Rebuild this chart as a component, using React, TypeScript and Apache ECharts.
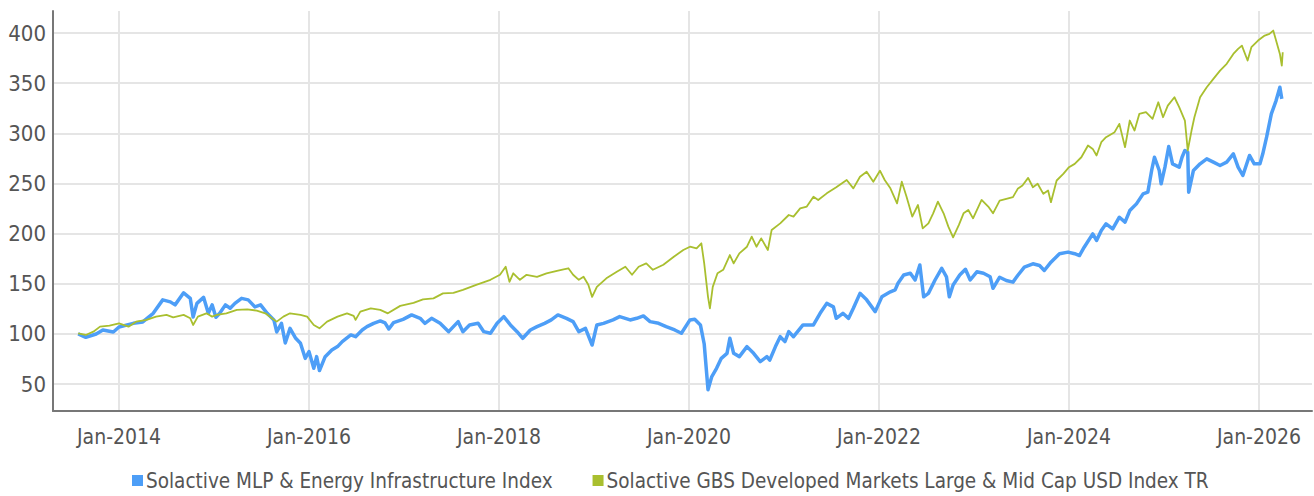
import React, { useEffect, useRef } from "react";
import * as echarts from "echarts";

const seriesNames = [
  "Solactive MLP & Energy Infrastructure Index",
  "Solactive GBS Developed Markets Large & Mid Cap USD Index TR",
];

const yTickValues = [50, 100, 150, 200, 250, 300, 350, 400];
const xTickYears = [2014, 2016, 2018, 2020, 2022, 2024, 2026];

// [decimal year, index value]
const mlpData: [number, number][] = [
  [2013.57, 100], [2013.65, 96.7], [2013.76, 100], [2013.83, 104], [2013.94, 102],
  [2014.0, 107], [2014.15, 110.6], [2014.25, 112], [2014.36, 120.6], [2014.46, 134],
  [2014.54, 132], [2014.59, 129], [2014.68, 141], [2014.75, 135.5], [2014.78, 117],
  [2014.82, 130.5], [2014.89, 136.5], [2014.94, 120.6], [2014.98, 129], [2015.02, 116.6],
  [2015.06, 120.6], [2015.12, 129], [2015.17, 125.6], [2015.22, 130.5], [2015.29, 135.5],
  [2015.36, 134], [2015.43, 127], [2015.49, 129], [2015.56, 120.6], [2015.63, 114],
  [2015.66, 102], [2015.71, 110.6], [2015.75, 91], [2015.8, 105.6], [2015.86, 95.7],
  [2015.91, 90.7], [2015.96, 75.7], [2016.0, 82.4], [2016.05, 65.8], [2016.08, 77.4],
  [2016.11, 63.5], [2016.17, 77.4], [2016.24, 84], [2016.3, 87.4], [2016.35, 92.4],
  [2016.44, 99], [2016.49, 97.3], [2016.56, 104], [2016.61, 107.3], [2016.68, 110.6],
  [2016.75, 113], [2016.8, 111], [2016.84, 105], [2016.89, 111.3], [2016.99, 114.6],
  [2017.08, 119], [2017.17, 115.6], [2017.22, 110.6], [2017.29, 115.6], [2017.38, 110.6],
  [2017.47, 102.3], [2017.57, 112.3], [2017.62, 102.3], [2017.69, 109], [2017.78, 110.6],
  [2017.84, 102.3], [2017.91, 100.7], [2017.98, 110.6], [2018.05, 117.3], [2018.12, 109],
  [2018.19, 102.3], [2018.25, 95.7], [2018.33, 104], [2018.4, 107.3], [2018.48, 110.6],
  [2018.55, 114], [2018.62, 119], [2018.71, 115.6], [2018.78, 112.3], [2018.84, 102.3],
  [2018.91, 105.6], [2018.98, 89], [2019.03, 109], [2019.1, 110.6], [2019.2, 114],
  [2019.27, 117.3], [2019.38, 114], [2019.45, 115.6], [2019.52, 118], [2019.59, 112.3],
  [2019.68, 110.6], [2019.76, 107.3], [2019.85, 104], [2019.92, 100.7], [2020.01, 114],
  [2020.06, 114.6], [2020.12, 109], [2020.16, 90], [2020.2, 44.5], [2020.24, 57.5],
  [2020.29, 65.8], [2020.34, 75.7], [2020.4, 80.7], [2020.43, 95.7], [2020.47, 80.7],
  [2020.53, 77.4], [2020.61, 87.4], [2020.68, 80.7], [2020.75, 72.4], [2020.82, 77.4],
  [2020.85, 74], [2020.91, 87.4], [2020.96, 97.3], [2021.01, 92.4], [2021.05, 102.3],
  [2021.1, 97.3], [2021.2, 109], [2021.31, 109], [2021.38, 120.6], [2021.45, 130.5],
  [2021.52, 127], [2021.55, 115.6], [2021.62, 120.6], [2021.68, 115.6], [2021.73, 125.6],
  [2021.8, 140.5], [2021.87, 134], [2021.96, 122.3], [2022.03, 137], [2022.12, 142],
  [2022.17, 144], [2022.2, 150.5], [2022.26, 158.8], [2022.33, 160.5], [2022.38, 153.8],
  [2022.43, 168.8], [2022.47, 137], [2022.52, 140.5], [2022.59, 153.8], [2022.66, 165.5],
  [2022.71, 157], [2022.74, 137], [2022.78, 148.8], [2022.85, 158.8], [2022.91, 164.5],
  [2022.96, 153.8], [2023.03, 162], [2023.1, 160.5], [2023.17, 157], [2023.2, 145.5],
  [2023.27, 156.6], [2023.34, 153.3], [2023.41, 151.7], [2023.46, 158.3], [2023.53, 166.6],
  [2023.62, 170], [2023.69, 168.3], [2023.74, 163.3], [2023.81, 171.6], [2023.9, 180],
  [2023.99, 181.6], [2024.06, 180], [2024.11, 178.2], [2024.16, 186.5], [2024.25, 199.8],
  [2024.29, 193.2], [2024.34, 203.2], [2024.39, 209.8], [2024.46, 204.8], [2024.53, 216.4],
  [2024.59, 211.5], [2024.64, 223], [2024.71, 229.7], [2024.78, 239.7], [2024.83, 241.4],
  [2024.87, 263], [2024.9, 276.2], [2024.95, 263], [2024.97, 249.7], [2025.01, 266.3],
  [2025.05, 286.9], [2025.09, 269.6], [2025.16, 266.3], [2025.19, 276.2], [2025.22, 282.9],
  [2025.25, 281.2], [2025.26, 241.4], [2025.31, 263], [2025.38, 269.6], [2025.45, 274.6],
  [2025.52, 271.3], [2025.59, 268], [2025.66, 271.3], [2025.73, 279.6], [2025.78, 266.3],
  [2025.83, 258], [2025.9, 278], [2025.95, 269.6], [2026.01, 269.6], [2026.04, 279.6],
  [2026.08, 296.2], [2026.13, 319.4], [2026.18, 332.7], [2026.22, 346], [2026.24, 334.4],
];

const gbsData: [number, number][] = [
  [2013.57, 100.7], [2013.65, 99], [2013.73, 102.3], [2013.8, 107.3], [2013.9, 108.3],
  [2014.0, 110.6], [2014.1, 107.3], [2014.18, 112.3], [2014.29, 114], [2014.39, 117.3],
  [2014.5, 119], [2014.57, 116.6], [2014.68, 119], [2014.75, 115.6], [2014.78, 109],
  [2014.83, 117.3], [2014.92, 120.6], [2014.98, 117.3], [2015.03, 119], [2015.13, 120.6],
  [2015.24, 124], [2015.35, 124.6], [2015.45, 123.3], [2015.54, 120.6], [2015.61, 115.6],
  [2015.66, 112.3], [2015.73, 117.3], [2015.8, 120.6], [2015.91, 119], [2015.98, 117.3],
  [2016.05, 109], [2016.11, 105.6], [2016.19, 112.3], [2016.3, 117.3], [2016.4, 120.6],
  [2016.47, 118], [2016.49, 114], [2016.54, 122.3], [2016.65, 125.6], [2016.75, 124],
  [2016.83, 120.6], [2016.96, 128], [2017.1, 131], [2017.2, 134.5], [2017.31, 135.5],
  [2017.41, 140.5], [2017.52, 141], [2017.62, 144], [2017.76, 149], [2017.91, 154],
  [2018.01, 159], [2018.07, 167], [2018.11, 152], [2018.15, 160.5], [2018.22, 154],
  [2018.29, 159], [2018.4, 157], [2018.5, 160.5], [2018.61, 163], [2018.68, 164.5],
  [2018.73, 165.5], [2018.78, 159], [2018.84, 154], [2018.89, 157], [2018.94, 149],
  [2018.98, 137], [2019.03, 147], [2019.13, 155.5], [2019.24, 162], [2019.33, 167],
  [2019.4, 159], [2019.47, 167], [2019.55, 170.4], [2019.62, 164], [2019.73, 169],
  [2019.84, 177], [2019.94, 183.7], [2020.01, 187], [2020.08, 185.4], [2020.13, 190.4],
  [2020.16, 170.4], [2020.2, 137], [2020.22, 125.6], [2020.25, 147], [2020.3, 160.5],
  [2020.36, 164], [2020.43, 178.7], [2020.47, 170.4], [2020.53, 180.4], [2020.61, 187],
  [2020.66, 197], [2020.71, 187], [2020.76, 195.3], [2020.83, 183.7], [2020.87, 203.7],
  [2020.96, 210.3], [2021.05, 218.6], [2021.1, 217], [2021.17, 225.2], [2021.24, 227],
  [2021.31, 236.9], [2021.36, 233.6], [2021.45, 240.2], [2021.55, 246.2], [2021.66, 253.5],
  [2021.73, 245.2], [2021.8, 256.8], [2021.87, 261.8], [2021.94, 251.8], [2022.01, 262.8],
  [2022.06, 253.5], [2022.12, 245.2], [2022.19, 230.2], [2022.24, 251.8], [2022.29, 236.9],
  [2022.35, 217], [2022.41, 228.6], [2022.46, 205.3], [2022.52, 210.3], [2022.57, 220.3],
  [2022.62, 231.9], [2022.68, 220.3], [2022.73, 207], [2022.78, 196.3], [2022.84, 208.6],
  [2022.89, 220.3], [2022.94, 223.6], [2022.99, 215.3], [2023.08, 233.6], [2023.15, 227],
  [2023.2, 220.3], [2023.27, 233], [2023.34, 234.7], [2023.41, 236.4], [2023.46, 244.7],
  [2023.51, 248], [2023.57, 255.6], [2023.62, 246.3], [2023.67, 249.7], [2023.73, 239.7],
  [2023.78, 243], [2023.81, 231.4], [2023.87, 253], [2023.94, 259.6], [2024.0, 266.3],
  [2024.06, 269.6], [2024.13, 276.2], [2024.2, 287.9], [2024.25, 284.5], [2024.29, 277.9],
  [2024.34, 291.2], [2024.39, 296.2], [2024.48, 301.2], [2024.53, 309.5], [2024.59, 286.2],
  [2024.64, 312.8], [2024.69, 302.8], [2024.74, 319.4], [2024.81, 321.1], [2024.88, 314.5],
  [2024.94, 331], [2024.99, 316.1], [2025.04, 327.7], [2025.11, 336], [2025.16, 326.1],
  [2025.22, 312.8], [2025.25, 282.9], [2025.29, 302.8], [2025.32, 316.1], [2025.38, 336],
  [2025.45, 346], [2025.52, 354.3], [2025.59, 362.6], [2025.66, 369.3], [2025.73, 379.2],
  [2025.78, 384.2], [2025.82, 387.5], [2025.88, 372.6], [2025.92, 385.9], [2025.99, 392.5],
  [2026.06, 397.5], [2026.11, 399.2], [2026.15, 402.5], [2026.18, 392.5], [2026.22, 379.2],
  [2026.24, 367.6], [2026.25, 380.9],
];

const FONT = '"DejaVu Sans Condensed", "Roboto", sans-serif';
const BLUE = "#4d9ef7";
const GREEN = "#a9bf2f";

export default function App() {
  const ref = useRef<HTMLDivElement>(null);
  useEffect(() => {
    if (!ref.current) return;
    const chart = echarts.init(ref.current, null, { renderer: "svg" });
    chart.setOption({
      animation: false,
      backgroundColor: "#ffffff",
      grid: { left: 53, right: 2, top: 11, bottom: 85, containLabel: false },
      legend: {
        bottom: 0,
        left: 127,
        icon: "rect",
        itemWidth: 11,
        itemHeight: 11,
        itemGap: 40,
        textStyle: { fontFamily: FONT, fontSize: 20.5, color: "#555", padding: [0, 0, 0, -2] },
        data: seriesNames,
      },
      xAxis: {
        type: "value",
        min: 2013.305,
        max: 2026.558,
        axisLine: { show: true, lineStyle: { color: "#777", width: 2 } },
        axisTick: { show: false, customValues: xTickYears },
        axisLabel: {
          customValues: xTickYears,
          formatter: (v: number) => "Jan-" + Math.round(v),
          fontFamily: FONT,
          fontSize: 21,
          color: "#555",
          margin: 15,
        },
        splitLine: { show: true, lineStyle: { color: "#e5e5e5", width: 2 } },
      },
      yAxis: {
        type: "value",
        min: 23.2,
        max: 422,
        axisLine: { show: true, lineStyle: { color: "#777", width: 2 } },
        axisTick: { show: false, customValues: yTickValues },
        axisLabel: {
          customValues: yTickValues,
          fontFamily: FONT,
          fontSize: 22,
          color: "#555",
          margin: 7,
        },
        splitLine: { show: true, lineStyle: { color: "#e5e5e5", width: 2 } },
      },
      series: [
        {
          name: seriesNames[0],
          type: "line",
          data: mlpData,
          showSymbol: false,
          symbol: "none",
          color: BLUE,
          lineStyle: { color: BLUE, width: 3.5, join: "round" },
          z: 2,
        },
        {
          name: seriesNames[1],
          type: "line",
          data: gbsData,
          showSymbol: false,
          symbol: "none",
          color: GREEN,
          lineStyle: { color: GREEN, width: 1.8, join: "round" },
          z: 3,
        },
      ],
    });
    return () => chart.dispose();
  }, []);
  return (
    <div
      ref={ref}
      style={{ position: "fixed", left: 0, top: 0, width: 1314, height: 496, background: "#fff" }}
    />
  );
}
